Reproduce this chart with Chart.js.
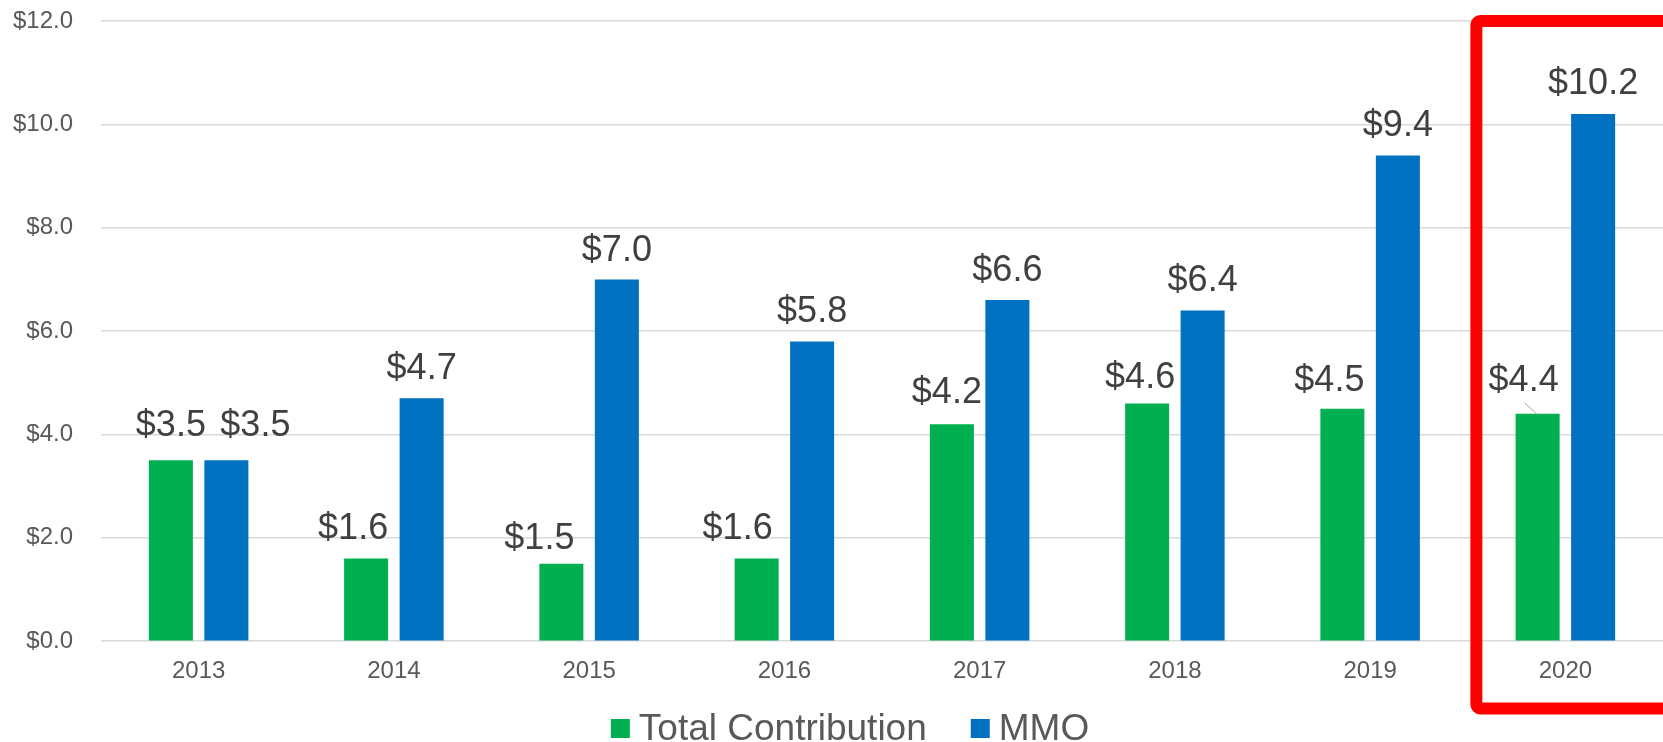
<!DOCTYPE html>
<html>
<head>
<meta charset="utf-8">
<script src="https://cdn.jsdelivr.net/npm/chart.js@4.4.1/dist/chart.umd.min.js"></script>
<style>
  html, body { margin: 0; padding: 0; background: #fff; overflow: hidden; }
  canvas { display: block; }
</style>
</head>
<body>
<canvas id="chart" width="1663" height="742"></canvas>
<script>
const years = ["2013", "2014", "2015", "2016", "2017", "2018", "2019", "2020"];
const totalContribution = [3.5, 1.6, 1.5, 1.6, 4.2, 4.6, 4.5, 4.4];
const mmo = [3.5, 4.7, 7.0, 5.8, 6.6, 6.4, 9.4, 10.2];
const yTicks = [0, 2, 4, 6, 8, 10, 12];
const seriesNames = ["Total Contribution", "MMO"];

// label nudges (px) so the value labels sit like in the original
const greenNudgeX = [0, -13, -22, -19, -5, -7, -13, -14];
const greenNudgeY = [-5, -1, 4, -1, -2, 4, 1, -4];
const blueNudgeX = [29, 0, 0, 0, 0, 0, 0, 0];
const blueNudgeY = [-5, 0, 1, 0, 0, 0, 0, -1];
const leaderLines = [false, false, false, false, false, false, false, true];

const GREEN = "#00B050";
const BLUE = "#0070C0";
const FONT = "'Liberation Sans', Arial, sans-serif";

const fmt = (v) => "$" + v.toFixed(1);

const valueLabels = {
  id: "valueLabels",
  afterDatasetsDraw(chart) {
    const ctx = chart.ctx;
    const nudges = [
      { x: greenNudgeX, y: greenNudgeY },
      { x: blueNudgeX, y: blueNudgeY },
    ];
    ctx.save();
    ctx.font = "36px " + FONT;
    ctx.fillStyle = "#404040";
    ctx.textAlign = "center";
    ctx.textBaseline = "alphabetic";
    chart.data.datasets.forEach((ds, di) => {
      const meta = chart.getDatasetMeta(di);
      meta.data.forEach((bar, i) => {
        const lx = bar.x + nudges[di].x[i];
        const ly = bar.y - 19 + nudges[di].y[i];
        ctx.fillText(fmt(ds.data[i]), lx, ly);
        if (di === 0 && leaderLines[i]) {
          ctx.strokeStyle = "#a6a6a6";
          ctx.lineWidth = 1;
          ctx.beginPath();
          ctx.moveTo(lx + 1, ly + 12);
          ctx.lineTo(bar.x, bar.y + 1);
          ctx.stroke();
        }
      });
    });
    ctx.restore();
  },
};

const bottomLegend = {
  id: "bottomLegend",
  afterDraw(chart) {
    const ctx = chart.ctx;
    const colors = [GREEN, BLUE];
    ctx.save();
    ctx.font = "37px " + FONT;
    const widths = seriesNames.map((n) => ctx.measureText(n).width);
    const total = widths.reduce((a, b) => a + b, 0) + 2 * (19 + 9) + 44;
    let x = 850 - total / 2;
    seriesNames.forEach((name, i) => {
      ctx.fillStyle = colors[i];
      ctx.fillRect(x, 719, 19, 19);
      ctx.fillStyle = "#595959";
      ctx.textBaseline = "alphabetic";
      ctx.fillText(name, x + 28, 739.5);
      x += 28 + widths[i] + 44;
    });
    ctx.restore();
  },
};

const highlightBox = {
  id: "highlightBox",
  afterDraw(chart) {
    const ctx = chart.ctx;
    const cx = chart.scales.x.getPixelForValue(years.length - 1);
    const left = cx - 89;
    const top = 21;
    const w = 193;
    const h = 687.5;
    ctx.save();
    ctx.strokeStyle = "#FF0000";
    ctx.lineWidth = 12;
    ctx.lineJoin = "round";
    ctx.beginPath();
    ctx.roundRect(left, top, w, h, 4);
    ctx.stroke();
    ctx.restore();
  },
};

new Chart(document.getElementById("chart").getContext("2d"), {
  type: "bar",
  data: {
    labels: years,
    datasets: [
      {
        label: seriesNames[0],
        data: totalContribution,
        backgroundColor: GREEN,
        categoryPercentage: 0.5685,
        barPercentage: 0.793,
      },
      {
        label: seriesNames[1],
        data: mmo,
        backgroundColor: BLUE,
        categoryPercentage: 0.5685,
        barPercentage: 0.793,
      },
    ],
  },
  options: {
    responsive: false,
    devicePixelRatio: 1,
    animation: false,
    layout: { padding: { top: 0, bottom: 40, left: 0, right: 0 } },
    plugins: {
      legend: { display: false },
      tooltip: { enabled: false },
    },
    scales: {
      x: {
        grid: { display: false, drawTicks: false },
        border: { display: false },
        ticks: {
          color: "#595959",
          font: { family: FONT, size: 24 },
          padding: 16,
        },
      },
      y: {
        min: 0,
        max: 12,
        afterBuildTicks: (scale) => {
          scale.ticks = yTicks.map((v) => ({ value: v }));
        },
        afterFit: (scale) => {
          scale.width = 101;
          scale.paddingTop = 21;
          scale.paddingBottom = 0;
        },
        grid: { color: "#d9d9d9", lineWidth: 1.5, drawTicks: false },
        border: { display: false },
        ticks: {
          color: "#595959",
          font: { family: FONT, size: 24 },
          padding: 28,
          callback: (v) => fmt(v),
        },
      },
    },
  },
  plugins: [valueLabels, highlightBox, bottomLegend],
});
</script>
</body>
</html>
